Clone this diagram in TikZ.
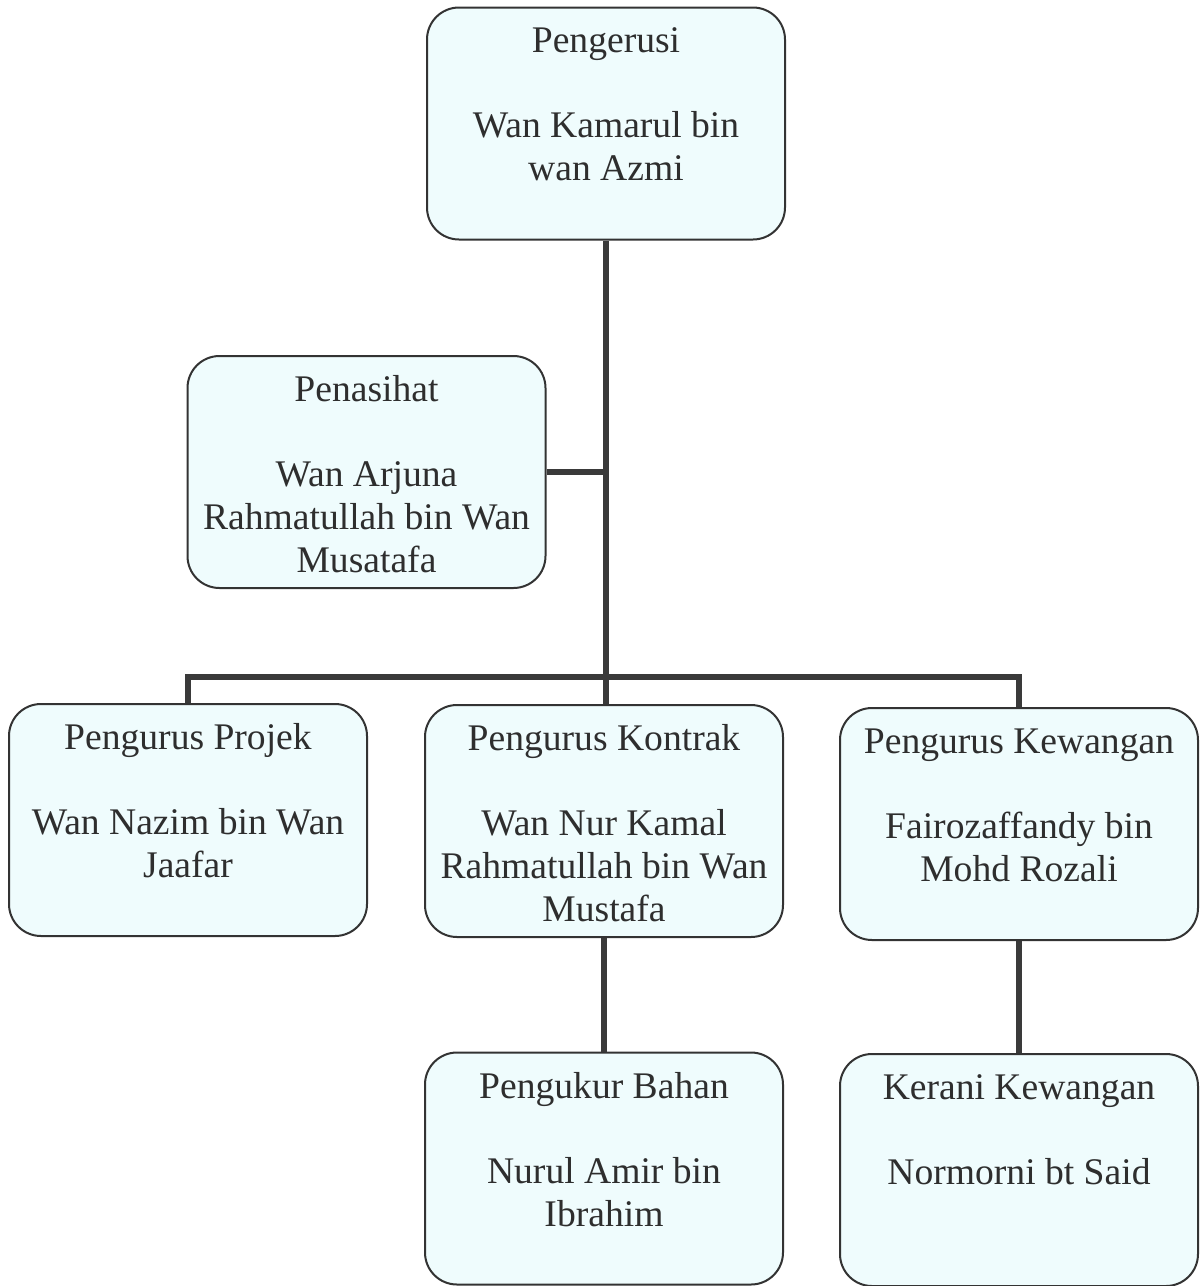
\documentclass[tikz,border=0pt]{standalone}
\usepackage{fontspec}
\setmainfont{Liberation Serif}
\definecolor{boxfill}{HTML}{EFFCFD}
\definecolor{boxline}{HTML}{333333}
\definecolor{conline}{HTML}{3A3A3A}
\begin{document}
\begin{tikzpicture}[x=0.5pt,y=-0.5pt,
  orgbox/.style={draw=boxline,line width=1pt,fill=boxfill,rounded corners=16pt,
    minimum width=179pt,minimum height=116pt,inner sep=0pt},
  orgtext/.style={anchor=north,align=center,inner sep=0pt,
    font=\fontsize{18.8}{21.5}\selectfont,text=black!82},
  conn/.style={draw=conline,line width=3pt}]
\useasboundingbox (0,0) rectangle (1200,1286);
% boxes
\node[orgbox] (top)  at (606,123.5) {};
\node[orgbox] (pen)  at (366.5,472) {};
\node[orgbox] (proj) at (188,820) {};
\node[orgbox] (kon)  at (604,821) {};
\node[orgbox] (kew)  at (1019,824) {};
\node[orgbox] (ukur) at (604,1168.5) {};
\node[orgbox] (ker)  at (1019,1170) {};
% connectors
\coordinate (bus) at (605,677);
\draw[conn] (top.south) -- (top.south |- kon.north);
\draw[conn] (pen.east) -- (pen.east -| top.south);
\draw[conn] (proj.north) -- (proj.north |- bus) -- (kew.north |- bus) -- (kew.north);
\draw[conn] (kon.south) -- (ukur.north);
\draw[conn] (kew.south) -- (ker.north);
% texts
\node[orgtext] (topt)  at ([yshift=-10pt]top.north)  {\rule{0pt}{13pt}Pengerusi\\[21pt]Wan Kamarul bin\\wan Azmi};
\node[orgtext] (pent)  at ([yshift=-10pt]pen.north)  {\rule{0pt}{13pt}Penasihat\\[21pt]Wan Arjuna\\Rahmatullah bin Wan\\Musatafa};
\node[orgtext] (projt) at ([yshift=-10pt]proj.north) {\rule{0pt}{13pt}Pengurus Projek\\[21pt]Wan Nazim bin Wan\\Jaafar};
\node[orgtext] (kont)  at ([yshift=-10pt]kon.north)  {\rule{0pt}{13pt}Pengurus Kontrak\\[21pt]Wan Nur Kamal\\Rahmatullah bin Wan\\Mustafa};
\node[orgtext] (kewt)  at ([yshift=-10pt]kew.north)  {\rule{0pt}{13pt}Pengurus Kewangan\\[21pt]Fairozaffandy bin\\Mohd Rozali};
\node[orgtext] (ukurt) at ([yshift=-10pt]ukur.north) {\rule{0pt}{13pt}Pengukur Bahan\\[21pt]Nurul Amir bin\\Ibrahim};
\node[orgtext] (kert)  at ([yshift=-10pt]ker.north)  {\rule{0pt}{13pt}Kerani Kewangan\\[21pt]Normorni bt Said};
\end{tikzpicture}
\end{document}
